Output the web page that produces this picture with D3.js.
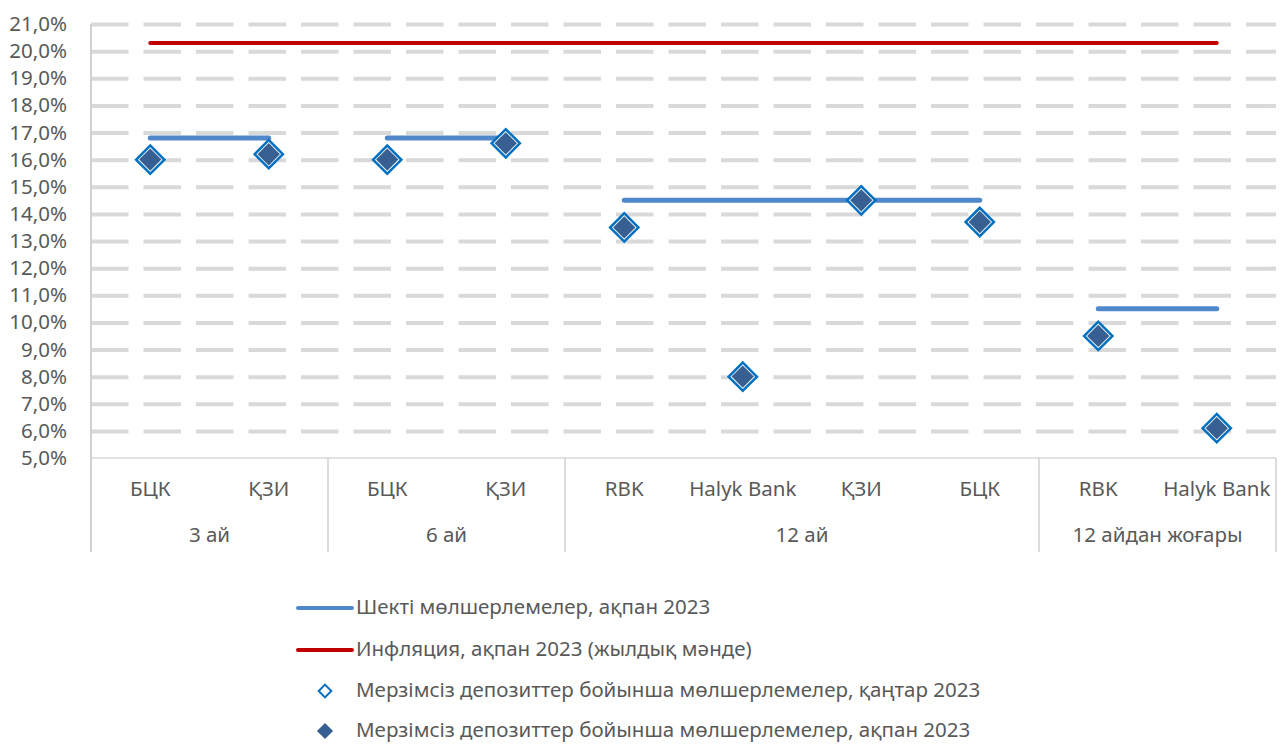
<!DOCTYPE html>
<html>
<head>
<meta charset="utf-8">
<title>Deposit rates</title>
<script src="https://d3js.org/d3.v7.min.js"></script>
<style>
  body {margin:0; background:#fff;}
  text {font-family:'Noto Sans',sans-serif; fill:#595959;}
</style>
</head>
<body>
<svg id="chart" width="1284" height="745"></svg>
<script>
// data
const groups = ['3 ай', '6 ай', '12 ай', '12 айдан жоғары'];
const banks = ['БЦК', 'ҚЗИ', 'БЦК', 'ҚЗИ', 'RBK', 'Halyk Bank', 'ҚЗИ', 'БЦК', 'RBK', 'Halyk Bank'];
const groupOf = [0, 0, 1, 1, 2, 2, 2, 2, 3, 3];
const limitFeb = [16.8, 16.8, 16.8, 16.8, 14.5, 14.5, 14.5, 14.5, 10.5, 10.5];
const inflationFeb = [20.3, 20.3, 20.3, 20.3, 20.3, 20.3, 20.3, 20.3, 20.3, 20.3];
const rateJan = [16.0, 16.2, 16.0, 16.6, 13.5, 8.0, 14.5, 13.7, 9.5, 6.1];
const rateFeb = [16.0, 16.2, 16.0, 16.6, 13.5, 8.0, 14.5, 13.7, 9.5, 6.1];
const yTicks = [5, 6, 7, 8, 9, 10, 11, 12, 13, 14, 15, 16, 17, 18, 19, 20, 21];
const legendNames = [
  'Шекті мөлшерлемелер, ақпан 2023',
  'Инфляция, ақпан 2023 (жылдық мәнде)',
  'Мерзімсіз депозиттер бойынша мөлшерлемелер, қаңтар 2023',
  'Мерзімсіз депозиттер бойынша мөлшерлемелер, ақпан 2023'
];

const C = {limit:'#5088CA', infl:'#C00000', jan:'#0070C0', feb:'#385F91',
           grid:'#D9D9D9', axis:'#D0D0D0'};
const FS = 20.5;

const svg = d3.select('#chart');
const L = 91, R = 1276, T = 24, B = 458, labBottom = 552;

const x = d3.scaleBand().domain(d3.range(banks.length)).range([L, R]);
const y = d3.scaleLinear().domain([5, 21]).range([B, T]);
const cx = i => x(i) + x.bandwidth() / 2;

// gridlines
const grid = svg.append('g').attr('transform', `translate(${L},0)`)
  .call(d3.axisLeft(y).tickValues(yTicks.slice(1)).tickSize(-(R - L)).tickFormat(''));
grid.select('.domain').remove();
grid.selectAll('line').attr('stroke', C.grid).attr('stroke-width', 4)
  .attr('stroke-dasharray', '37.5,15');

// y axis labels
const fmt = v => d3.format('.1f')(v).replace('.', ',') + '%';
const yAx = svg.append('g').attr('transform', `translate(${L},0)`)
  .call(d3.axisLeft(y).tickValues(yTicks).tickSize(0).tickPadding(24).tickFormat(fmt));
yAx.select('.domain').remove();
yAx.selectAll('text').attr('font-size', FS).style('fill', '#595959')
  .style('font-family', "'Noto Sans',sans-serif");

// axis lines
svg.append('line').attr('x1', L).attr('x2', R).attr('y1', B).attr('y2', B)
  .attr('stroke', C.grid).attr('stroke-width', 1.5);
svg.append('line').attr('x1', L).attr('x2', L).attr('y1', T).attr('y2', labBottom)
  .attr('stroke', C.axis).attr('stroke-width', 2);

// group separators and labels
const gStart = groups.map((g, k) => groupOf.indexOf(k));
const gEnd = groups.map((g, k) => groupOf.lastIndexOf(k));
groups.forEach((g, k) => {
  const x1 = x(gEnd[k]) + x.bandwidth();
  svg.append('line').attr('x1', x1).attr('x2', x1).attr('y1', B).attr('y2', labBottom)
    .attr('stroke', C.axis).attr('stroke-width', 1.5);
  svg.append('text').attr('x', (x(gStart[k]) + x1) / 2).attr('y', 536)
    .attr('text-anchor', 'middle').attr('dominant-baseline', 'middle')
    .attr('font-size', FS).text(g);
});
svg.selectAll('.bank').data(banks).join('text').attr('class', 'bank')
  .attr('x', (d, i) => cx(i)).attr('y', 490)
  .attr('text-anchor', 'middle').attr('dominant-baseline', 'middle')
  .attr('font-size', FS).text(d => d);

// inflation line
const line = d3.line().x(d => cx(d.i)).y(d => y(d.v));
svg.append('path').datum(inflationFeb.map((v, i) => ({i, v})))
  .attr('d', line).attr('fill', 'none').attr('stroke', C.infl)
  .attr('stroke-width', 4).attr('stroke-linecap', 'round');

// limit lines, one per group
groups.forEach((g, k) => {
  const pts = limitFeb.map((v, i) => ({i, v})).filter(d => groupOf[d.i] === k);
  svg.append('path').datum(pts).attr('d', line).attr('fill', 'none')
    .attr('stroke', C.limit).attr('stroke-width', 5).attr('stroke-linecap', 'round');
});

// markers
const diamond = a => d3.symbol().type(d3.symbolSquare).size(a)();
svg.selectAll('.jan').data(rateJan).join('path').attr('class', 'jan')
  .attr('d', diamond(400))
  .attr('transform', (d, i) => `translate(${cx(i)},${y(d)}) rotate(45)`)
  .attr('fill', '#fff').attr('stroke', C.jan).attr('stroke-width', 2.5);
svg.selectAll('.feb').data(rateFeb).join('path').attr('class', 'feb')
  .attr('d', diamond(250))
  .attr('transform', (d, i) => `translate(${cx(i)},${y(d)}) rotate(45)`)
  .attr('fill', C.feb);

// legend
const lg = svg.append('g');
const lys = [608, 650, 691, 731];
lg.append('line').attr('x1', 298).attr('x2', 352).attr('y1', lys[0]).attr('y2', lys[0])
  .attr('stroke', C.limit).attr('stroke-width', 4).attr('stroke-linecap', 'round');
lg.append('line').attr('x1', 298).attr('x2', 352).attr('y1', lys[1]).attr('y2', lys[1])
  .attr('stroke', C.infl).attr('stroke-width', 4).attr('stroke-linecap', 'round');
lg.append('path').attr('d', diamond(80))
  .attr('transform', `translate(325,${lys[2]}) rotate(45)`)
  .attr('fill', '#fff').attr('stroke', C.jan).attr('stroke-width', 2);
lg.append('path').attr('d', diamond(130))
  .attr('transform', `translate(325,${lys[3]}) rotate(45)`)
  .attr('fill', C.feb);
legendNames.forEach((n, k) => {
  lg.append('text').attr('x', 356).attr('y', lys[k])
    .attr('dominant-baseline', 'middle').attr('font-size', FS).text(n);
});
</script>
</body>
</html>
